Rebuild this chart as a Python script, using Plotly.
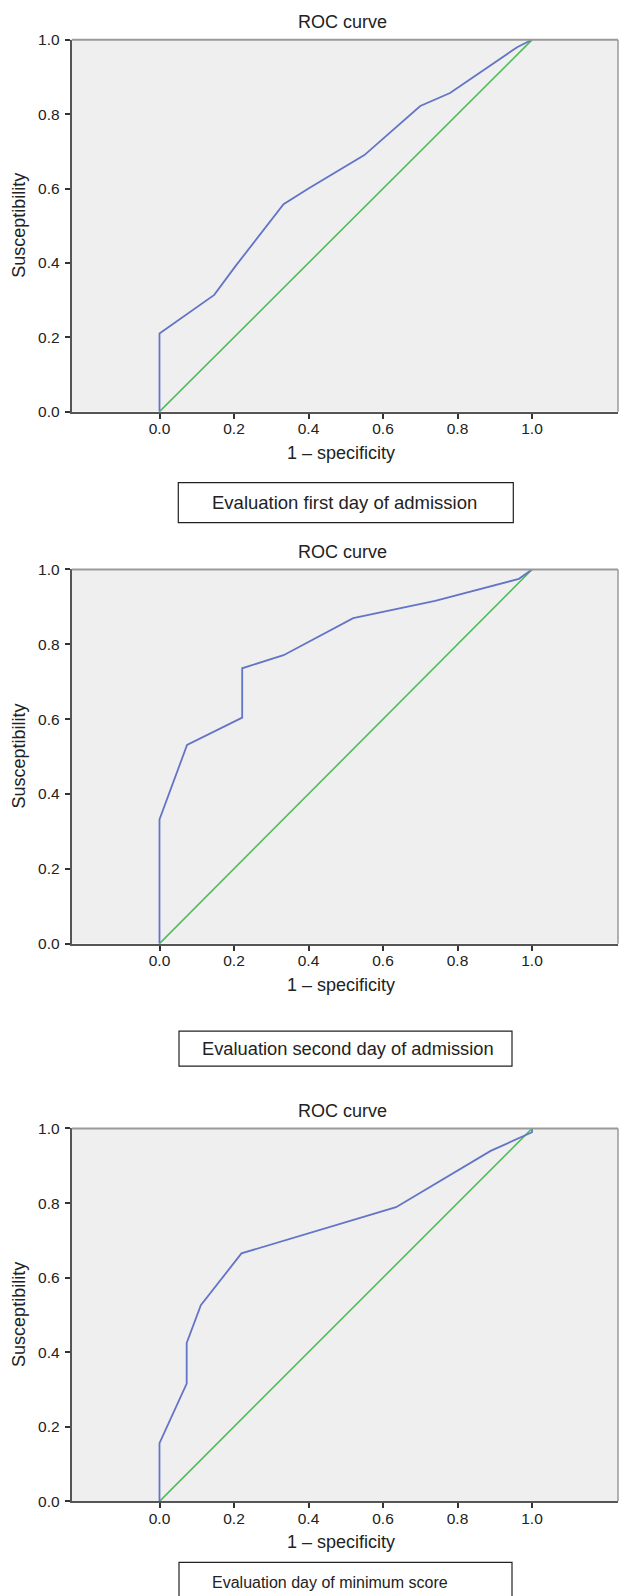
import plotly.graph_objects as go

# ---- data ----
roc1_fpr = [0.0, 0.0, 0.147, 0.203, 0.333, 0.40, 0.55, 0.70, 0.78, 0.96, 1.0]
roc1_tpr = [0.0, 0.21, 0.314, 0.39, 0.558, 0.60, 0.69, 0.822, 0.857, 0.98, 1.0]

roc2_fpr = [0.0, 0.0, 0.074, 0.222, 0.222, 0.333, 0.52, 0.74, 0.965, 1.0]
roc2_tpr = [0.0, 0.332, 0.531, 0.604, 0.736, 0.771, 0.87, 0.916, 0.975, 1.0]

roc3_fpr = [0.0, 0.0, 0.073, 0.073, 0.111, 0.22, 0.635, 0.889, 1.0, 1.0]
roc3_tpr = [0.0, 0.156, 0.316, 0.425, 0.526, 0.665, 0.789, 0.94, 0.99, 1.0]

ref_line = [0.0, 1.0]

panel_titles = ["ROC curve", "ROC curve", "ROC curve"]
box_labels = ["Evaluation first day of admission",
              "Evaluation second day of admission",
              "Evaluation day of minimum score"]
x_title = "1 \u2013 specificity"
y_title = "Susceptibility"
tick_vals = [0.0, 0.2, 0.4, 0.6, 0.8, 1.0]

# ---- layout geometry (pixels) ----
W, H = 620, 1596
FONT = "Liberation Sans, Arial, sans-serif"
BLUE = "#6474c6"
GREEN = "#4fbd5a"
AXIS = "#555555"
BORDER = "#9a9a9a"

def px(x):
    return x / W

def py(y):
    # compensate for the small vertical offset/squeeze seen in the rendering
    yd = (y - 8.2) / 0.989
    return 1 - yd / H

panels = [
    dict(fpr=roc1_fpr, tpr=roc1_tpr, top=39.0, bottom=410.7,
         box=(178.3, 481.7, 513.3, 521.7), box_text=(344.2, 501.7), box_size=18.5, box_anchor="center"),
    dict(fpr=roc2_fpr, tpr=roc2_tpr, top=568.5, bottom=942.5,
         box=(179.0, 1030.0, 512.0, 1065.0), box_text=(347.7, 1047.5), box_size=18.3, box_anchor="center"),
    dict(fpr=roc3_fpr, tpr=roc3_tpr, top=1127.3, bottom=1500.0,
         box=(179.0, 1561.0, 512.0, 1640.0), box_text=(210.0, 1581.0), box_size=16, box_anchor="left"),
]

x_left, x_right = 71.7, 618.0
x_dom = [px(x_left), px(x_right)]
x0_px, x1_px = 159.5, 532.0
unit = x1_px - x0_px
x_range = [(x_left - x0_px) / unit, (x_right - x0_px) / unit]

fig = go.Figure()
shapes = []
annotations = []

for i, p in enumerate(panels):
    n = "" if i == 0 else str(i + 1)
    xa = "x" + n
    ya = "y" + n
    fig.add_trace(go.Scatter(x=ref_line, y=ref_line, mode="lines",
                             line=dict(color=GREEN, width=1.6),
                             xaxis=xa, yaxis=ya, showlegend=False, hoverinfo="skip"))
    fig.add_trace(go.Scatter(x=p["fpr"], y=p["tpr"], mode="lines",
                             line=dict(color=BLUE, width=1.8),
                             xaxis=xa, yaxis=ya, showlegend=False))
    axis_common = dict(showgrid=False, zeroline=False, showline=True,
                       linecolor=AXIS, linewidth=2, ticks="outside",
                       ticklen=5, tickwidth=1.5, tickcolor="#333333",
                       tickvals=tick_vals, tickformat=".1f",
                       tickfont=dict(family=FONT, size=15.5, color="#222222"),
                       fixedrange=True)
    fig.update_layout({
        "xaxis" + n: dict(domain=x_dom, range=x_range, anchor=ya,
                          ticklabelstandoff=-3, **axis_common),
        "yaxis" + n: dict(domain=[py(p["bottom"]), py(p["top"])], range=[0, 1],
                          anchor=xa, ticklabelstandoff=2, **axis_common),
    })
    # top and right borders (lighter gray)
    shapes.append(dict(type="line", xref="paper", yref="paper",
                       x0=px(x_left), x1=px(x_right), y0=py(p["top"]), y1=py(p["top"]),
                       line=dict(color=BORDER, width=2)))
    shapes.append(dict(type="line", xref="paper", yref="paper",
                       x0=px(x_right), x1=px(x_right), y0=py(p["top"]), y1=py(p["bottom"]),
                       line=dict(color=BORDER, width=1.5)))
    # title
    annotations.append(dict(text=panel_titles[i], xref="paper", yref="paper",
                            x=px((x_left + x_right) / 2 - 2), y=py(p["top"] - 17.5),
                            xanchor="center", yanchor="middle", showarrow=False,
                            font=dict(family=FONT, size=18, color="#222222")))
    # x title
    annotations.append(dict(text=x_title, xref="paper", yref="paper",
                            x=px(341.0), y=py(p["bottom"] + 41),
                            xanchor="center", yanchor="middle", showarrow=False,
                            font=dict(family=FONT, size=18, color="#222222")))
    # y title
    annotations.append(dict(text=y_title, xref="paper", yref="paper",
                            x=px(19.0), y=py((p["top"] + p["bottom"]) / 2),
                            xanchor="center", yanchor="middle", showarrow=False,
                            textangle=-90,
                            font=dict(family=FONT, size=18, color="#222222")))
    # label box
    bx0, by0, bx1, by1 = p["box"]
    shapes.append(dict(type="rect", xref="paper", yref="paper",
                       x0=px(bx0), x1=px(bx1), y0=py(by1), y1=py(by0),
                       line=dict(color="#222222", width=1.2), fillcolor="rgba(0,0,0,0)"))
    tx, ty = p["box_text"]
    annotations.append(dict(text=box_labels[i], xref="paper", yref="paper",
                            x=px(tx), y=py(ty), xanchor=p["box_anchor"], yanchor="middle",
                            showarrow=False,
                            font=dict(family=FONT, size=p["box_size"], color="#222222")))

fig.update_layout(
    width=W, height=H,
    margin=dict(l=0, r=0, t=0, b=0),
    paper_bgcolor="white",
    plot_bgcolor="#efefef",
    shapes=shapes,
    annotations=annotations,
    showlegend=False,
)

fig.write_html(
    "out.html",
    config={"displayModeBar": False},
    post_script="document.body.style.margin='0px';document.body.style.overflow='hidden';",
)
